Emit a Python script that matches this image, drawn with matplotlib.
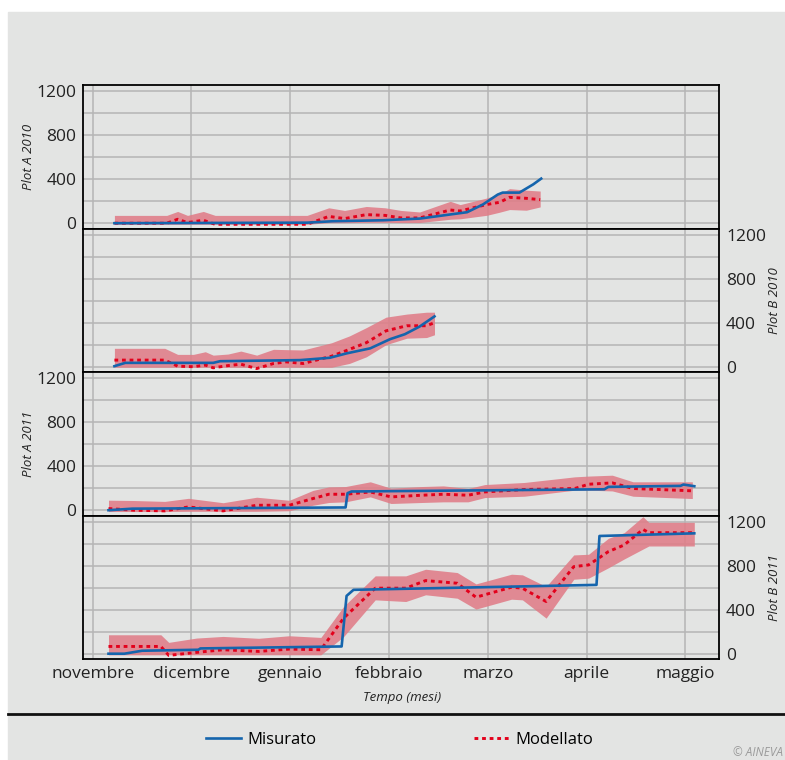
import matplotlib
matplotlib.use('Agg')
import matplotlib.pyplot as plt
from matplotlib.patches import Rectangle
from matplotlib.lines import Line2D

plt.rcParams['font.family'] = ['Open Sans', 'DejaVu Sans']

# x in months from the start of november (0 = novembre, 6 = maggio)
months = ['novembre', 'dicembre', 'gennaio', 'febbraio', 'marzo', 'aprile', 'maggio']
panel_names = ['Plot A 2010', 'Plot B 2010', 'Plot A 2011', 'Plot B 2011']

# Plot A 2010
a10_x = [0.22, 0.75, 0.86, 0.96, 1.12, 1.24, 2.17, 2.39, 2.55, 2.77, 2.96, 3.12, 3.31, 3.62, 3.72, 3.99, 4.12, 4.22, 4.39, 4.53]
a10_mod = [0, 0, 36, 6, 27, -10, -10, 62, 42, 78, 71, 48, 48, 120, 111, 170, 190, 235, 226, 214]
a10_hi = [71, 71, 107, 71, 107, 71, 71, 140, 116, 152, 140, 116, 102, 199, 169, 229, 265, 314, 300, 292]
a10_lo = [-10, -10, -10, -10, -10, -10, -10, 5, 5, 8, 8, 6, 6, 36, 40, 72, 100, 124, 118, 148]
a10_mx = [0.22, 2.17, 2.43, 2.94, 3.31, 3.79, 3.95, 4.10, 4.15, 4.32, 4.46, 4.54]
a10_mis = [0, 5, 18, 27, 42, 100, 170, 260, 278, 278, 353, 405]

# Plot B 2010
b10_x = [0.22, 0.73, 0.86, 1.02, 1.14, 1.22, 1.37, 1.50, 1.66, 1.83, 1.96, 2.13, 2.42, 2.60, 2.77, 2.97, 3.18, 3.38, 3.46]
b10_mod = [60, 60, 5, 0, 15, -10, 10, 23, -17, 29, 44, 29, 96, 158, 218, 326, 372, 372, 400]
b10_hi = [167, 167, 112, 112, 136, 105, 115, 142, 105, 158, 155, 152, 218, 280, 355, 450, 478, 495, 495]
b10_lo = [-5, -5, -5, -5, -5, -5, -5, -5, -5, -5, -5, -5, -5, 30, 90, 200, 259, 265, 290]
b10_mx = [0.22, 0.33, 1.22, 1.29, 2.10, 2.40, 2.57, 2.81, 3.01, 3.16, 3.31, 3.46]
b10_mis = [5, 35, 35, 50, 60, 81, 121, 167, 250, 295, 365, 457]

# Plot A 2011
a11_x = [0.16, 0.42, 0.73, 0.97, 1.32, 1.66, 1.99, 2.23, 2.39, 2.56, 2.81, 3.02, 3.33, 3.55, 3.80, 3.97, 4.37, 4.88, 5.02, 5.26, 5.47, 6.07]
a11_mod = [15, 0, -6, 30, -6, 45, 45, 106, 145, 145, 166, 121, 136, 145, 136, 166, 188, 197, 236, 248, 197, 176]
a11_hi = [91, 88, 80, 108, 68, 118, 90, 180, 212, 215, 258, 200, 215, 221, 197, 233, 252, 303, 310, 318, 258, 258]
a11_lo = [-12, -12, -12, -10, -10, -10, -5, 45, 70, 76, 121, 61, 70, 76, 76, 115, 127, 182, 182, 175, 127, 106]
a11_mx = [0.16, 0.40, 2.56, 2.58, 2.62, 5.18, 5.22, 5.95, 5.98, 6.09]
a11_mis = [0, 14, 25, 155, 170, 190, 212, 221, 233, 218]

# Plot B 2011
b11_x = [0.16, 0.69, 0.77, 1.05, 1.32, 1.68, 1.99, 2.31, 2.54, 2.86, 3.17, 3.37, 3.69, 3.88, 4.24, 4.35, 4.59, 4.87, 5.02, 5.22, 5.38, 5.57, 5.63, 6.09]
b11_mod = [66, 66, -15, 12, 36, 21, 42, 36, 323, 595, 595, 664, 640, 513, 604, 595, 474, 791, 806, 927, 987, 1129, 1099, 1099]
b11_hi = [172, 172, 103, 142, 157, 140, 163, 148, 429, 707, 707, 767, 737, 634, 722, 716, 610, 897, 903, 1048, 1099, 1244, 1193, 1193]
b11_lo = [-10, -10, -10, -10, -10, -10, -10, -10, 155, 489, 474, 535, 504, 405, 495, 489, 323, 676, 686, 780, 860, 950, 978, 978]
b11_mx = [0.16, 0.32, 0.50, 1.07, 1.09, 2.52, 2.57, 2.64, 5.10, 5.13, 6.09]
b11_mis = [0, 0, 27, 36, 48, 66, 525, 580, 625, 1069, 1093]

panels = [
    (a10_x, a10_mod, a10_lo, a10_hi, a10_mx, a10_mis),
    (b10_x, b10_mod, b10_lo, b10_hi, b10_mx, b10_mis),
    (a11_x, a11_mod, a11_lo, a11_hi, a11_mx, a11_mis),
    (b11_x, b11_mod, b11_lo, b11_hi, b11_mx, b11_mis),
]

bg = '#e3e4e3'
blue = '#1565ad'
red = '#e3001b'
band = '#e07d88'
gridc = '#b5b5b5'

W, H = 785, 760
fig = plt.figure(figsize=(W / 100, H / 100), dpi=100, facecolor='white')
fig.patches.append(Rectangle((8 / W, 0), 1, 1 - 12 / H, transform=fig.transFigure,
                             color=bg, zorder=-10))

gs = fig.add_gridspec(4, 1, left=83.3 / W, right=719 / W, top=1 - 85 / H, bottom=1 - 659 / H, hspace=0)

for i, (x, mod, lo, hi, mx, mis) in enumerate(panels):
    ax = fig.add_subplot(gs[i])
    ax.set_facecolor(bg)
    ax.fill_between(x, lo, hi, color=band, alpha=0.88, lw=0, zorder=2)
    lr, = ax.plot(x, mod, color=red, lw=2.1, dashes=(1.3, 1.3), zorder=3)
    lb, = ax.plot(mx, mis, color=blue, lw=1.9, zorder=4)
    ax.set_xlim(-0.095, 6.34)
    ax.set_ylim(-48, 1255)
    ax.set_yticks([0, 400, 800, 1200])
    ax.set_yticks([200, 600, 1000], minor=True)
    ax.set_xticks(range(7))
    ax.grid(which='both', color=gridc, lw=1.1, zorder=0)
    ax.set_axisbelow(True)
    ax.tick_params(which='both', length=0, labelsize=12.5, colors='#222222', pad=5)
    for s in ax.spines.values():
        s.set_color('black')
        s.set_linewidth(1.3)
    if i % 2 == 1:
        ax.yaxis.tick_right()
    if i == 3:
        ax.set_xticklabels(months)
    else:
        ax.set_xticklabels([])
    yc = 1 - (85 + 143.5 * (i + 0.5)) / H
    xl = 28 / W if i % 2 == 0 else 775 / W
    fig.text(xl, yc, panel_names[i], rotation=90, ha='center', va='center',
             fontsize=9.5, style='italic', color='#222222')

fig.text(402 / W, 1 - 697 / H, 'Tempo (mesi)', ha='center', va='center',
         fontsize=9.5, style='italic', color='#222222')

fig.add_artist(Line2D([8 / W, 1], [1 - 714 / H, 1 - 714 / H], color='#111111', lw=2,
                      transform=fig.transFigure))

fig.legend(handles=[lb, lr], labels=['Misurato', 'Modellato'], loc='center left',
           bbox_to_anchor=(206 / W, 1 - 740 / H), ncol=2, frameon=False, fontsize=12,
           handlelength=2.1, handletextpad=0.36, columnspacing=9.5,
           borderpad=0, borderaxespad=0)

fig.text(783 / W, 1 - 752 / H, '© AINEVA', fontsize=8.5, style='italic', color='#9a9a9a',
         ha='right', va='center')

fig.savefig('out.png', dpi=100, facecolor=fig.get_facecolor())
